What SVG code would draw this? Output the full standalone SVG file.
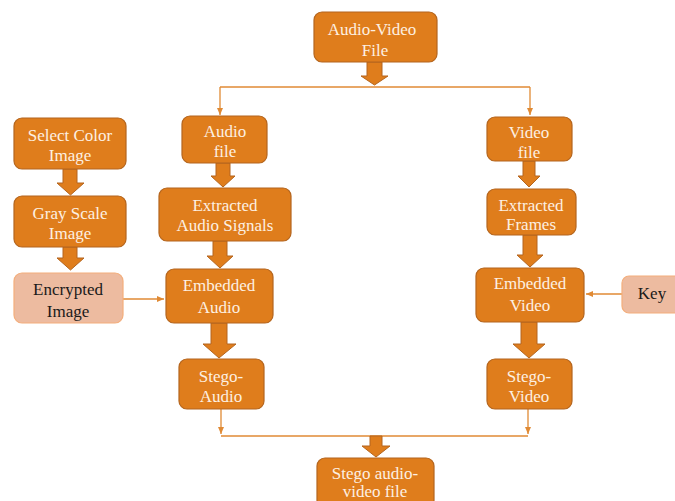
<svg xmlns="http://www.w3.org/2000/svg" width="675" height="501" viewBox="0 0 675 501">
<defs>
<style>
.n{fill:#DF7D1C;stroke:#B4651E;stroke-width:1.2}
.l{fill:#EDBBA0;stroke:#F3AE7C;stroke-width:1.2}
.t{font-family:"Liberation Serif","Times New Roman",serif;font-size:17px;fill:#FDF0E2;text-anchor:middle}
.d{font-family:"Liberation Serif","Times New Roman",serif;font-size:17px;fill:#1a1a1a;text-anchor:middle}
.ba{fill:#DF7D1C;stroke:#B4651E;stroke-width:1}
.ln{fill:none;stroke:#E08A34;stroke-width:1.3}
</style>
<marker id="ah" markerWidth="8" markerHeight="8" refX="7" refY="4" orient="auto" markerUnits="userSpaceOnUse">
<path d="M0,1 L7,4 L0,7 z" fill="#E08A34"/>
</marker>
</defs>
<rect width="675" height="501" fill="#fff"/>
<g id="connectors">
<path class="ln" d="M220,87 H530"/>
<path class="ln" d="M220,87 V115" marker-end="url(#ah)"/>
<path class="ln" d="M530,87 V115" marker-end="url(#ah)"/>
<path class="ln" d="M123,299 H164" marker-end="url(#ah)"/>
<path class="ln" d="M622,294 H586" marker-end="url(#ah)"/>
<path class="ln" d="M221,409 V434" marker-end="url(#ah)"/>
<path class="ln" d="M528,409 V434" marker-end="url(#ah)"/>
<path class="ln" d="M221,436 H528"/>
<path class="ba" d="M367,62 H382 V76 H388 L374.5,85 L361,76 H367 Z"/>
<path class="ba" d="M63,169 H77 V183 H84 L70.5,195 L57,183 H63 Z"/>
<path class="ba" d="M63,247 H77 V258 H84 L70.5,270 L57,258 H63 Z"/>
<path class="ba" d="M216,163 H230 V176 H235 L223,187 L211,176 H216 Z"/>
<path class="ba" d="M213,241 H227 V256 H233 L220,268 L207,256 H213 Z"/>
<path class="ba" d="M211,323 H227 V344 H236 L219,358 L203,344 H211 Z"/>
<path class="ba" d="M523,161 H535 V176 H540 L529,187 L518,176 H523 Z"/>
<path class="ba" d="M523,235 H537 V255 H543 L530,267 L517,255 H523 Z"/>
<path class="ba" d="M521,322 H537 V344 H545 L529,358 L513,344 H521 Z"/>
<path class="ba" d="M370,436 H382 V446 H390 L376,457 L362,446 H370 Z"/>
</g>
<g id="av-file"><rect class="n" x="314" y="12" width="123" height="50" rx="8"/><text class="t" x="372" y="35">Audio-Video</text><text class="t" x="375" y="56">File</text></g>
<g id="audio-file"><rect class="n" x="182" y="116" width="85" height="47" rx="8"/><text class="t" x="225" y="137">Audio</text><text class="t" x="225" y="157">file</text></g>
<g id="video-file"><rect class="n" x="487" y="117" width="85" height="44" rx="8"/><text class="t" x="529" y="138">Video</text><text class="t" x="529" y="158">file</text></g>
<g id="select-color"><rect class="n" x="14" y="118" width="112" height="51" rx="8"/><text class="t" x="70" y="141">Select Color</text><text class="t" x="70" y="161">Image</text></g>
<g id="gray-scale"><rect class="n" x="14" y="196" width="112" height="51" rx="8"/><text class="t" x="70" y="219">Gray Scale</text><text class="t" x="70" y="239">Image</text></g>
<g id="encrypted"><rect class="l" x="14" y="273" width="109" height="50" rx="8"/><text class="d" x="68" y="295">Encrypted</text><text class="d" x="68" y="317">Image</text></g>
<g id="extracted-audio"><rect class="n" x="159" y="188" width="132" height="53" rx="8"/><text class="t" x="225" y="211">Extracted</text><text class="t" x="225" y="231">Audio Signals</text></g>
<g id="embedded-audio"><rect class="n" x="166" y="269" width="107" height="54" rx="8"/><text class="t" x="219" y="291">Embedded</text><text class="t" x="219" y="313">Audio</text></g>
<g id="stego-audio"><rect class="n" x="179" y="359" width="85" height="50" rx="8"/><text class="t" x="221" y="382">Stego-</text><text class="t" x="221" y="402">Audio</text></g>
<g id="extracted-frames"><rect class="n" x="487" y="189" width="89" height="46" rx="8"/><text class="t" x="531" y="211">Extracted</text><text class="t" x="531" y="230">Frames</text></g>
<g id="embedded-video"><rect class="n" x="476" y="268" width="108" height="54" rx="8"/><text class="t" x="530" y="289">Embedded</text><text class="t" x="530" y="311">Video</text></g>
<g id="key"><rect class="l" x="622" y="276" width="70" height="37" rx="7"/><text class="d" x="652" y="299">Key</text></g>
<g id="stego-video"><rect class="n" x="487" y="359" width="85" height="50" rx="8"/><text class="t" x="529" y="382">Stego-</text><text class="t" x="529" y="402">Video</text></g>
<g id="stego-av"><rect class="n" x="317" y="458" width="117" height="50" rx="8"/><text class="t" x="375" y="479">Stego audio-</text><text class="t" x="375" y="497">video file</text></g>
</svg>
